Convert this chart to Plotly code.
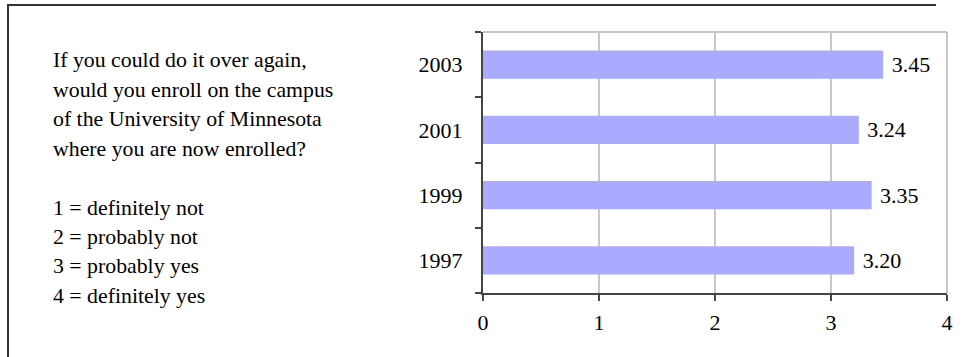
import plotly.graph_objects as go

# Survey years and mean response (1-4 scale)
years = ["1997", "1999", "2001", "2003"]
scores = [3.20, 3.35, 3.24, 3.45]
x_ticks = [0, 1, 2, 3, 4]

question_lines = [
    "If you could do it over again,",
    "would you enroll on the campus",
    "of the University of Minnesota",
    "where you are now enrolled?",
    "",
    "1 = definitely not",
    "2 = probably not",
    "3 = probably yes",
    "4 = definitely yes",
]

W, H = 966, 357
PL, PR, PT, PB = 482.5, 947, 32, 293  # plot area in pixels
FONT = "Liberation Serif, Times New Roman, serif"

fig = go.Figure(
    go.Bar(
        x=scores,
        y=years,
        orientation="h",
        marker=dict(color="#AAAAFF", line=dict(width=0)),
        width=0.43,
        text=[f"{v:.2f}" for v in scores],
        texttemplate=" %{text}",
        textposition="outside",
        textfont=dict(family=FONT, size=22, color="#000"),
        cliponaxis=False,
        hoverinfo="skip",
    )
)


def px_to_paper_x(px):
    return (px - PL) / (PR - PL)


def px_to_paper_y(py):
    return (PB - py) / (PB - PT)


# question text on the left, one annotation per line
first_base, step = 68.5, 29.4
for i, line in enumerate(question_lines):
    if not line:
        continue
    base = first_base + i * step
    fig.add_annotation(
        text=line,
        x=px_to_paper_x(51),
        y=px_to_paper_y(base + 5),
        xref="paper",
        yref="paper",
        xanchor="left",
        yanchor="bottom",
        showarrow=False,
        align="left",
        borderpad=0,
        font=dict(family=FONT, size=21.8, color="#000"),
    )

# gray frame on top and right of plot area
fig.add_shape(
    type="line", xref="x domain", yref="y domain",
    x0=0, x1=1, y0=1, y1=1, line=dict(color="#B4B4B4", width=1.5), layer="below",
)
fig.add_shape(
    type="line", xref="x domain", yref="y domain",
    x0=1, x1=1, y0=0, y1=1, line=dict(color="#B4B4B4", width=1.5), layer="below",
)

# outer box edges (top and left) around the whole chart
fig.add_shape(
    type="line", xref="paper", yref="paper",
    x0=px_to_paper_x(6), x1=px_to_paper_x(W - 30),
    y0=px_to_paper_y(5), y1=px_to_paper_y(5),
    line=dict(color="#333333", width=2),
)
fig.add_shape(
    type="line", xref="paper", yref="paper",
    x0=px_to_paper_x(7), x1=px_to_paper_x(7),
    y0=px_to_paper_y(4), y1=px_to_paper_y(H),
    line=dict(color="#333333", width=2),
)

fig.update_layout(
    width=W,
    height=H,
    margin=dict(l=PL, r=W - PR, t=PT, b=H - PB, pad=0),
    paper_bgcolor="white",
    plot_bgcolor="white",
    showlegend=False,
    bargap=0.57,
    font=dict(family=FONT, size=22, color="#000"),
    xaxis=dict(
        range=[0, 4],
        tickvals=x_ticks,
        ticktext=[str(t) for t in x_ticks],
        showgrid=True,
        gridcolor="#C8C8C8",
        gridwidth=1.5,
        zeroline=False,
        showline=True,
        linecolor="#444444",
        linewidth=2,
        ticks="outside",
        ticklen=6,
        tickwidth=1.5,
        tickcolor="#444444",
        ticklabelstandoff=3,
        tickfont=dict(family=FONT, size=22, color="#000"),
        fixedrange=True,
    ),
    yaxis=dict(
        type="category",
        categoryorder="array",
        categoryarray=years,
        tickson="boundaries",
        showgrid=False,
        zeroline=False,
        showline=True,
        linecolor="#444444",
        linewidth=2,
        ticks="outside",
        ticklen=6,
        tickwidth=1.5,
        tickcolor="#444444",
        ticklabelstandoff=14,
        tickfont=dict(family=FONT, size=22, color="#000"),
        fixedrange=True,
    ),
)

fig.write_html("out.html", config={"displayModeBar": False})
